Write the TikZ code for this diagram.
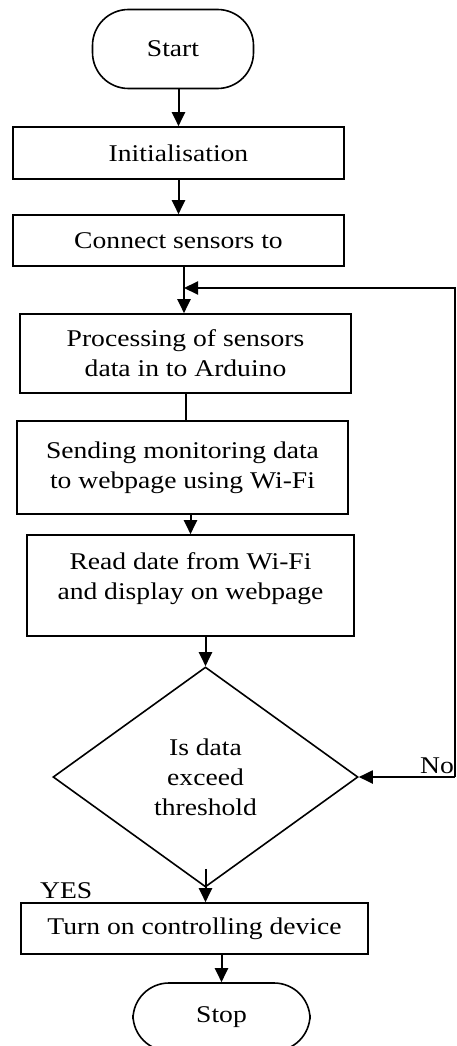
\documentclass[tikz,border=0pt]{standalone}
\usepackage{fontspec}
\setmainfont{Liberation Serif}[FakeStretch=1.15]
\usepackage{tikz}
\usetikzlibrary{shapes.geometric, arrows.meta, positioning, calc}

\begin{document}
\begin{tikzpicture}[x=1pt, y=-1pt,
    font=\fontsize{24}{30}\selectfont,
    procbox/.style={draw, line width=1.6pt, align=center, inner sep=0pt},
    termbox/.style={draw, line width=1.6pt, rounded corners=36pt, inner sep=0pt},
    decbox/.style={draw, diamond, line width=1.6pt, align=center, inner sep=0pt, minimum width=305pt, minimum height=220pt},
    flow/.style={line width=2pt, -{Triangle[length=14pt, width=13pt]}}]
    \useasboundingbox (0,0) rectangle (456,1046);

    \node[termbox, minimum width=161pt, minimum height=79pt] (start) at (173,49) {Start};
    \node[procbox, minimum width=331pt, minimum height=52pt] (init) at (178.5,153) {Initialisation};
    \node[procbox, minimum width=331pt, minimum height=51pt] (connect) at (178.5,240.5) {Connect sensors to};
    \node[procbox, minimum width=331pt, minimum height=79pt] (process) at (185.5,353.5) {Processing of sensors\\data in to Arduino};
    \node[procbox, minimum width=331pt, minimum height=93pt] (send) at (182.5,467.5) {Sending monitoring data\\to webpage using Wi-Fi};
    \node[procbox, minimum width=327pt, minimum height=101pt, text depth=19pt] (read) at (190.5,585.5) {Read date from Wi-Fi\\and display on webpage};
    \node[decbox] (check) at (205.5,777) {Is data\\exceed\\threshold};
    \node[procbox, minimum width=347pt, minimum height=51pt] (device) at (194.5,928.5) {Turn on controlling device};
    \node[termbox, minimum width=177pt, minimum height=68pt] (stop) at (221.5,1017) {Stop};

    % branch labels
    \node[anchor=base west, inner sep=0pt] (yes) at (40,898) {YES};
    \node[anchor=base east, inner sep=0pt] (no) at (454,773) {No};

    \coordinate (join) at (184,288);
    \coordinate (loopR) at (455,777);

    \draw[flow] (start.south -| init.north) -- (init.north);
    \draw[flow] (init.south -| connect.north) -- (connect.north);
    \draw[flow] (connect.south -| join) -- (process.north -| join);
    \draw[line width=2pt] (process.south) -- (process.south |- send.north);
    \draw[flow] (send.south -| read.north) -- (read.north);
    \draw[flow] (read.south -| check.north) -- (check.north);
    \draw[flow] ([yshift=19pt]check.south) -- (check.south |- device.north);
    \draw[flow] (device.south -| stop.north) -- (stop.north);

    % loop back when threshold not exceeded
    \draw[flow] (loopR) -- (check.east);
    \draw[flow] (loopR) |- (join);
\end{tikzpicture}
\end{document}
